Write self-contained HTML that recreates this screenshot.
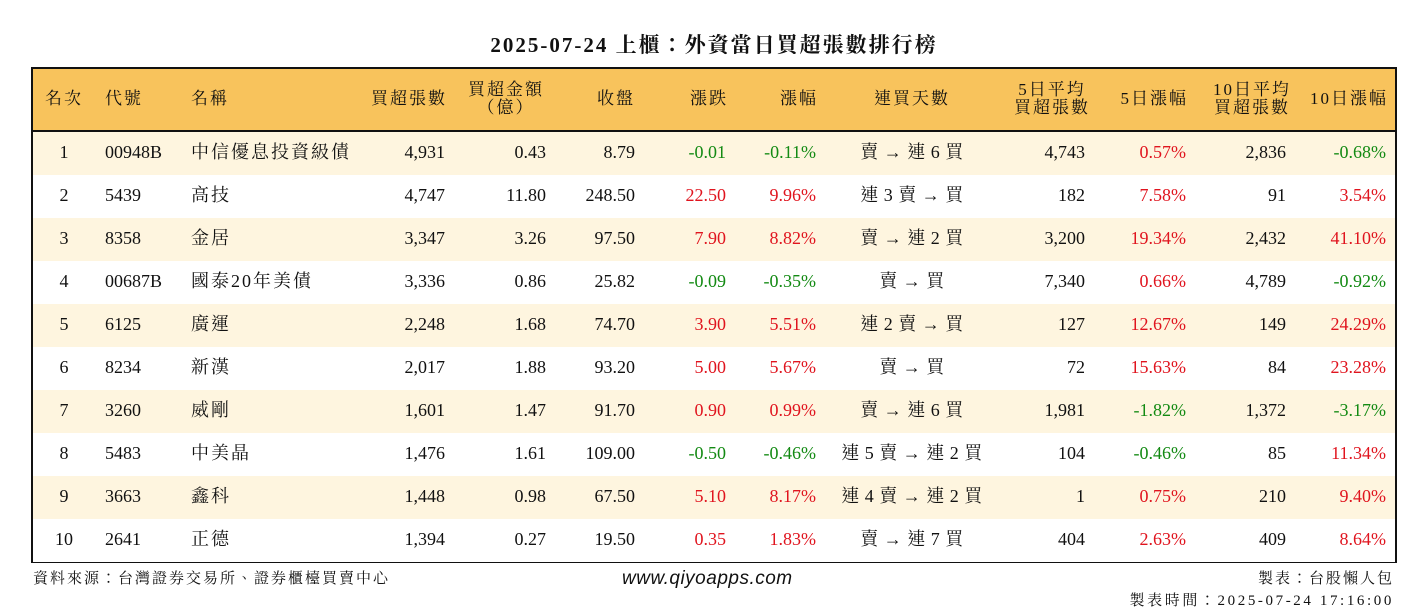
<!DOCTYPE html>
<html><head><meta charset="utf-8">
<style>
body{margin:0;width:1428px;height:612px;background:#fff;position:relative;overflow:hidden;font-family:"Liberation Serif","Noto Serif CJK TC","Noto Serif CJK SC",serif;color:#111}
#title{position:absolute;top:29px;left:0;width:1428px;text-align:center;font-size:21px;font-weight:bold;letter-spacing:2px}
#tbl{position:absolute;left:31px;top:67px;width:1362px;height:492px;border:2px solid #111}
#hdr{position:absolute;left:0;top:0;width:1362px;height:61px;background:#F8C35C;border-bottom:2px solid #111}
.row{position:absolute;left:0;width:1362px;height:43px}
.c{position:absolute;font-size:18px;white-space:nowrap;line-height:20px}
.h{font-size:17px;line-height:18px;text-align:center;letter-spacing:2px}
.cjk{letter-spacing:2px}
.stk{letter-spacing:0.5px}
.red{color:#E0141E}.grn{color:#138A13}
.foot{position:absolute;font-size:15px;letter-spacing:2px;font-family:"Liberation Serif","Noto Serif CJK TC",serif}
</style></head><body>
<div id="title">2025-07-24 上櫃：外資當日買超張數排行榜</div>
<div id="tbl">
<div id="hdr"></div>
</div>
<div class="foot" style="left:33px;top:567px">資料來源：台灣證券交易所、證券櫃檯買賣中心</div>
<div class="foot" style="left:622px;top:568px;font-size:19px;font-style:italic;letter-spacing:0.5px;font-family:'Liberation Sans',sans-serif">www.qiyoapps.com</div>
<div class="foot" style="right:34px;top:567px">製表：台股懶人包</div>
<div class="foot" style="right:34px;top:589px;letter-spacing:2.6px">製表時間：2025-07-24 17:16:00</div>
<script>
const ranks=["1","2","3","4","5","6","7","8","9","10"];
const codes=["00948B","5439","8358","00687B","6125","8234","3260","5483","3663","2641"];
const names=["中信優息投資級債","高技","金居","國泰20年美債","廣運","新漢","威剛","中美晶","鑫科","正德"];
const buyLots=["4,931","4,747","3,347","3,336","2,248","2,017","1,601","1,476","1,448","1,394"];
const buyAmt=["0.43","11.80","3.26","0.86","1.68","1.88","1.47","1.61","0.98","0.27"];
const closes=["8.79","248.50","97.50","25.82","74.70","93.20","91.70","109.00","67.50","19.50"];
const changes=["-0.01","22.50","7.90","-0.09","3.90","5.00","0.90","-0.50","5.10","0.35"];
const pcts=["-0.11%","9.96%","8.82%","-0.35%","5.51%","5.67%","0.99%","-0.46%","8.17%","1.83%"];
const streaks=["賣 → 連 6 買","連 3 賣 → 買","賣 → 連 2 買","賣 → 買","連 2 賣 → 買","賣 → 買","賣 → 連 6 買","連 5 賣 → 連 2 買","連 4 賣 → 連 2 買","賣 → 連 7 買"];
const avg5=["4,743","182","3,200","7,340","127","72","1,981","104","1","404"];
const pct5=["0.57%","7.58%","19.34%","0.66%","12.67%","15.63%","-1.82%","-0.46%","0.75%","2.63%"];
const avg10=["2,836","91","2,432","4,789","149","84","1,372","85","210","409"];
const pct10=["-0.68%","3.54%","41.10%","-0.92%","24.29%","23.28%","-3.17%","11.34%","9.40%","8.64%"];
const headers=["名次","代號","名稱","買超張數","買超金額<br>（億）","收盤","漲跌","漲幅","連買天數","5日平均<br>買超張數","5日漲幅","10日平均<br>買超張數","10日漲幅"];
const cols=[[31,'c'],[72,'l'],[158,'l'],[412,'r'],[513,'r'],[602,'r'],[693,'r'],[783,'r'],[879,'c'],[1052,'r'],[1153,'r'],[1253,'r'],[1353,'r']];
const hdrAnchor=[[31,'c'],[72,'l'],[158,'l'],[414,'r'],[473,'c'],[602,'r'],[695,'r'],[785,'r'],[879,'c'],[1019,'c'],[1155,'r'],[1219,'c'],[1355,'r']];
const tbl=document.getElementById('tbl');
const hdr=document.getElementById('hdr');
function place(parent,html,anchor,align,top,cls){
  const d=document.createElement('div');
  d.className='c '+(cls||'');
  d.innerHTML=html;
  d.style.top=top+'px';
  if(align==='l'){d.style.left=anchor+'px';}
  else if(align==='r'){d.style.right=(1362-anchor)+'px';}
  else{d.style.left=(anchor-100)+'px';d.style.width='200px';d.style.textAlign='center';}
  parent.appendChild(d);
  return d;
}
headers.forEach((h,i)=>{
  const two=h.includes('<br>');
  const d=place(hdr,h,hdrAnchor[i][0],hdrAnchor[i][1],two?12:21,'h');
  
  
});
function col(v){return v.startsWith('-')?'grn':'red';}
for(let r=0;r<ranks.length;r++){
  const row=document.createElement('div');
  row.className='row';
  row.style.top=(63+r*43)+'px';
  row.style.background=r%2===0?'#FEF5DF':'#fff';
  
  
  tbl.appendChild(row);
  const vals=[ranks[r],codes[r],names[r],buyLots[r],buyAmt[r],closes[r],changes[r],pcts[r],streaks[r],avg5[r],pct5[r],avg10[r],pct10[r]];
  vals.forEach((v,i)=>{
    let cls='';
    if(i===6||i===7||i===10||i===12)cls=col(v);
    if(i===2)cls='cjk';
    if(i===8)cls='stk';
    const d=place(row,v,cols[i][0],cols[i][1],10,cls);
    
    
  });
}
</script>
</body></html>
